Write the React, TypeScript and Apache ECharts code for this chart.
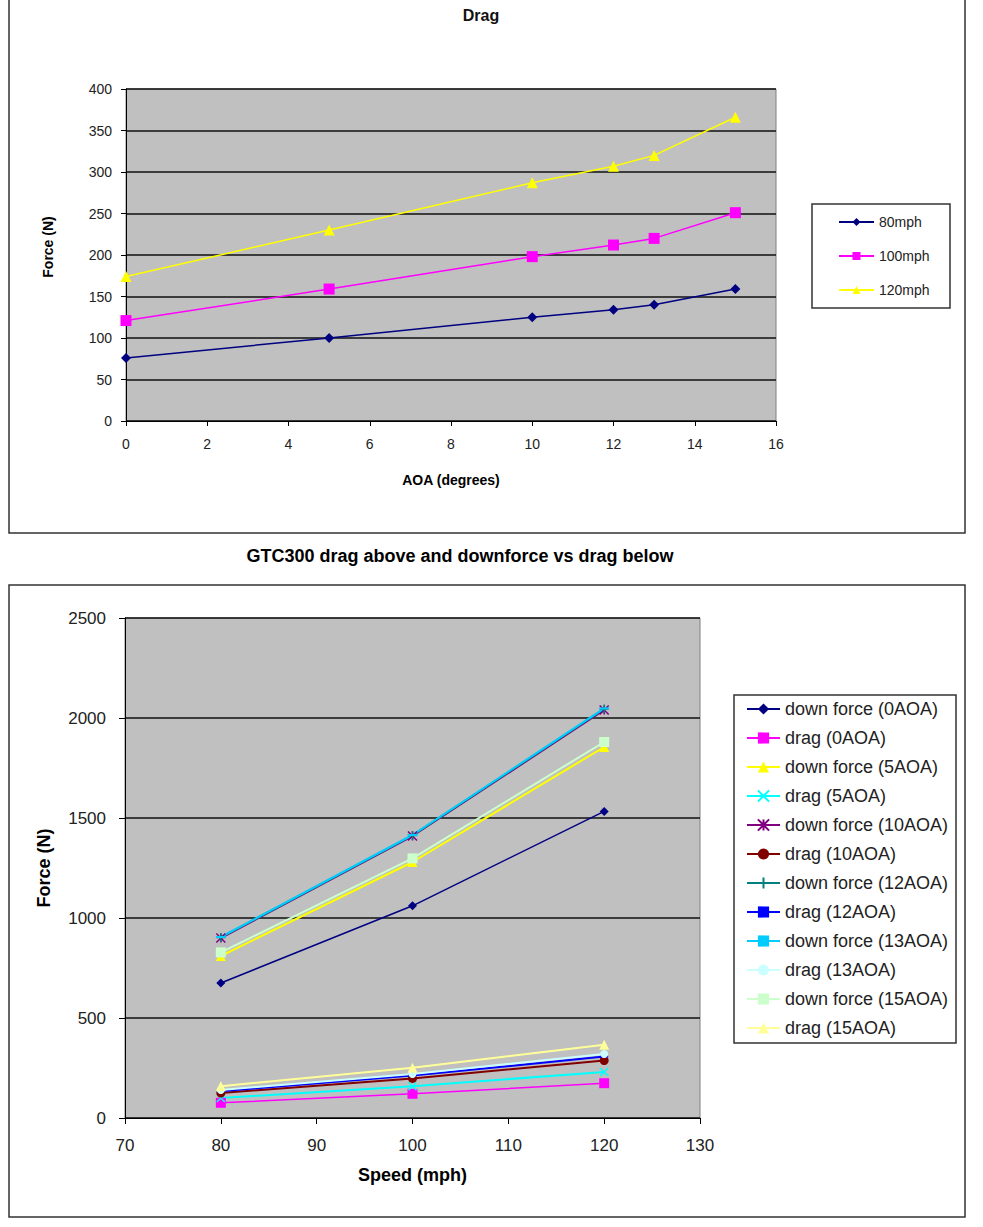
import React, { useEffect, useRef } from "react";
import * as echarts from "echarts";

// ---- Top chart: drag vs AOA ----
const aoa = [0, 5, 10, 12, 13, 15];
const drag80 = [76, 100, 125, 134, 140, 159];
const drag100 = [121, 159, 198, 212, 220, 251];
const drag120 = [174, 230, 287, 307, 320, 366];

// ---- Bottom chart: downforce & drag vs speed ----
const speeds = [80, 100, 120];
const down0 = [675, 1061, 1533];
const dragA0 = [76, 121, 174];
const down5 = [810, 1280, 1855];
const dragA5 = [100, 159, 230];
const down10 = [900, 1410, 2040];
const dragA10 = [125, 198, 287];
const down12 = [903, 1413, 2045];
const dragA12 = [134, 212, 307];
const down13 = [905, 1415, 2048];
const dragA13 = [140, 220, 320];
const down15 = [828, 1298, 1880];
const dragA15 = [159, 251, 366];

const topNames = ["80mph", "100mph", "120mph"];
const bottomNames = [
  "down force (0AOA)",
  "drag (0AOA)",
  "down force (5AOA)",
  "drag (5AOA)",
  "down force (10AOA)",
  "drag (10AOA)",
  "down force (12AOA)",
  "drag (12AOA)",
  "down force (13AOA)",
  "drag (13AOA)",
  "down force (15AOA)",
  "drag (15AOA)",
];

const FONT = "'Liberation Sans', Arial, sans-serif";

const X_SYM = "path://M0,0L10,10M10,0L0,10";
const STAR_SYM = "path://M0,0L10,10M10,0L0,10M5,0L5,10";
const PLUS_SYM = "path://M5,0L5,10M0,5L10,5";

function mk(
  name: string,
  xs: number[],
  ys: number[],
  color: string,
  symbol: string,
  size: any,
  grid: number,
  width: number,
  stroked = false
) {
  return {
    type: "line",
    name,
    xAxisIndex: grid,
    yAxisIndex: grid,
    data: xs.map((x, i) => [x, ys[i]]),
    symbol,
    symbolSize: size,
    showAllSymbol: true,
    lineStyle: { color, width },
    itemStyle: { color, borderColor: color, borderWidth: stroked ? 1.5 : 0 },
    emphasis: { disabled: true },
  };
}

export default function App() {
  const ref = useRef<HTMLDivElement>(null);
  useEffect(() => {
    if (!ref.current) return;
    const chart = echarts.init(ref.current, null, { renderer: "svg" });
    const tickLabel = (size: number) => ({
      fontSize: size,
      fontFamily: FONT,
      color: "#222",
      formatter: (v: number) => String(v),
    });
    const axisName = (size: number) => ({
      fontSize: size,
      fontFamily: FONT,
      fontWeight: "bold",
      color: "#000",
    });
    const option: any = {
      animation: false,
      backgroundColor: "#fff",
      grid: [
        {
          left: 126,
          top: 89,
          width: 650,
          height: 332,
          show: true,
          backgroundColor: "#c0c0c0",
          borderColor: "#808080",
          borderWidth: 1,
        },
        {
          left: 125,
          top: 618,
          width: 575,
          height: 500,
          show: true,
          backgroundColor: "#c0c0c0",
          borderColor: "#808080",
          borderWidth: 1,
        },
      ],
      xAxis: [
        {
          gridIndex: 0,
          type: "value",
          min: 0,
          max: 16,
          interval: 2,
          name: "AOA (degrees)",
          nameLocation: "middle",
          nameGap: 52,
          nameTextStyle: axisName(14),
          axisLine: { show: true, lineStyle: { color: "#000", width: 1 } },
          axisTick: { show: true, inside: false, length: 5, lineStyle: { color: "#000" } },
          splitLine: { show: false },
          axisLabel: { ...tickLabel(14), margin: 16 },
        },
        {
          gridIndex: 1,
          type: "value",
          min: 70,
          max: 130,
          interval: 10,
          name: "Speed (mph)",
          nameLocation: "middle",
          nameGap: 48,
          nameTextStyle: axisName(18),
          axisLine: { show: true, lineStyle: { color: "#000", width: 1 } },
          axisTick: { show: true, inside: false, length: 6, lineStyle: { color: "#000" } },
          splitLine: { show: false },
          axisLabel: { ...tickLabel(17), margin: 19 },
        },
      ],
      yAxis: [
        {
          gridIndex: 0,
          type: "value",
          min: 0,
          max: 400,
          interval: 50,
          name: "Force (N)",
          nameLocation: "middle",
          nameGap: 71,
          nameRotate: 90,
          nameTextStyle: { ...axisName(14), padding: [0, 0, 0, 16] },
          axisLine: { show: true, lineStyle: { color: "#000", width: 1 } },
          axisTick: { show: true, inside: false, length: 5, lineStyle: { color: "#000" } },
          splitLine: { show: true, lineStyle: { color: "#111", width: 1.5 } },
          axisLabel: { ...tickLabel(14), margin: 14 },
        },
        {
          gridIndex: 1,
          type: "value",
          min: 0,
          max: 2500,
          interval: 500,
          name: "Force (N)",
          nameLocation: "middle",
          nameGap: 72,
          nameRotate: 90,
          nameTextStyle: axisName(18),
          axisLine: { show: true, lineStyle: { color: "#000", width: 1 } },
          axisTick: { show: true, inside: false, length: 6, lineStyle: { color: "#000" } },
          splitLine: { show: true, lineStyle: { color: "#111", width: 1.5 } },
          axisLabel: { ...tickLabel(17), margin: 19 },
        },
      ],
      legend: [
        {
          data: topNames,
          orient: "vertical",
          left: 838,
          top: 214,
          padding: 0,
          itemWidth: 35,
          itemHeight: 10,
          itemGap: 18,
          selectedMode: false,
          textStyle: { fontSize: 14, lineHeight: 16, fontFamily: FONT, color: "#222" },
        },
        {
          data: bottomNames,
          orient: "vertical",
          left: 746,
          top: 699,
          padding: 0,
          itemWidth: 33,
          itemHeight: 14,
          itemGap: 9,
          selectedMode: false,
          textStyle: { fontSize: 18, lineHeight: 20, fontFamily: FONT, color: "#222" },
        },
      ],
      graphic: [
        {
          type: "rect",
          shape: { x: 9, y: -5, width: 956, height: 538 },
          style: { fill: "none", stroke: "#333", lineWidth: 1.5 },
          silent: true,
        },
        {
          type: "rect",
          shape: { x: 9, y: 585, width: 956, height: 632 },
          style: { fill: "none", stroke: "#333", lineWidth: 1.5 },
          silent: true,
        },
        {
          type: "rect",
          shape: { x: 812, y: 204, width: 138, height: 104 },
          style: { fill: "none", stroke: "#333", lineWidth: 1.5 },
          silent: true,
        },
        {
          type: "rect",
          shape: { x: 734, y: 695, width: 222, height: 348 },
          style: { fill: "none", stroke: "#333", lineWidth: 1.5 },
          silent: true,
        },
        {
          type: "text",
          x: 481,
          y: 15,
          style: {
            text: "Drag",
            fontSize: 16,
            fontWeight: "bold",
            fontFamily: FONT,
            fill: "#111",
            align: "center",
            verticalAlign: "middle",
          },
          silent: true,
        },
        {
          type: "text",
          x: 460,
          y: 556,
          style: {
            text: "GTC300 drag above and downforce vs drag below",
            fontSize: 18,
            fontWeight: "bold",
            fontFamily: FONT,
            fill: "#000",
            align: "center",
            verticalAlign: "middle",
          },
          silent: true,
        },
      ],
      series: [
        mk("80mph", aoa, drag80, "#000080", "diamond", 10, 0, 1.5),
        mk("100mph", aoa, drag100, "#ff00ff", "rect", 11, 0, 1.5),
        mk("120mph", aoa, drag120, "#ffff00", "triangle", 11, 0, 1.5),

        mk(bottomNames[0], speeds, down0, "#000080", "diamond", 9, 1, 1.5),
        mk(bottomNames[1], speeds, dragA0, "#ff00ff", "rect", 10, 1, 1.5),
        mk(bottomNames[2], speeds, down5, "#ffff00", "triangle", 10, 1, 2),
        mk(bottomNames[3], speeds, dragA5, "#00ffff", X_SYM, 8, 1, 2, true),
        mk(bottomNames[4], speeds, down10, "#800080", STAR_SYM, 9, 1, 2, true),
        mk(bottomNames[5], speeds, dragA10, "#800000", "circle", 9, 1, 2),
        mk(bottomNames[6], speeds, down12, "#008080", PLUS_SYM, 9, 1, 2, true),
        mk(bottomNames[7], speeds, dragA12, "#0000ff", "rect", [8, 2], 1, 2),
        mk(bottomNames[8], speeds, down13, "#00ccff", "rect", [10, 2], 1, 2),
        mk(bottomNames[9], speeds, dragA13, "#ccffff", "circle", 8, 1, 2),
        mk(bottomNames[10], speeds, down15, "#ccffcc", "rect", 10, 1, 2),
        mk(bottomNames[11], speeds, dragA15, "#ffff99", "triangle", 10, 1, 2),
      ],
    };
    chart.setOption(option);
    return () => chart.dispose();
  }, []);
  return (
    <div
      ref={ref}
      style={{ position: "absolute", left: 0, top: 0, width: 983, height: 1227 }}
    />
  );
}
